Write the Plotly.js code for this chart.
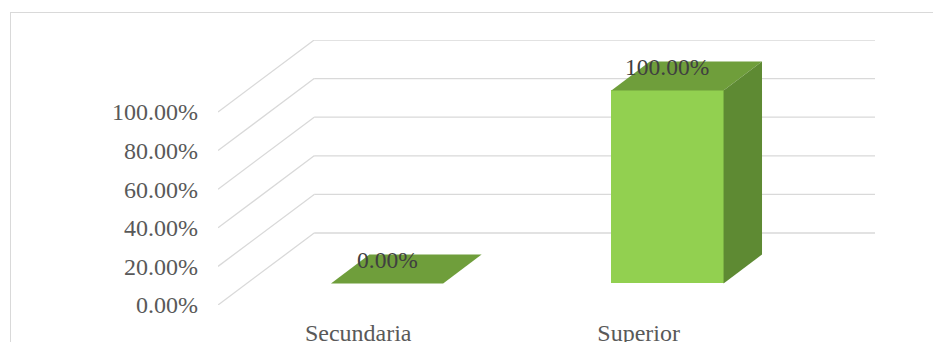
<!DOCTYPE html>
<html>
<head>
<meta charset="utf-8">
<script src="https://cdn.plot.ly/plotly-3.0.1.min.js"></script>
<style>
  html, body { margin: 0; padding: 0; background: #ffffff; overflow: hidden; }
  #frame { position: absolute; left: 10px; top: 12px; width: 960px; height: 360px;
           border: 1px solid #d9d9d9; box-sizing: border-box; }
  #chart { position: absolute; left: 0; top: 0; width: 933px; height: 342px; }
</style>
</head>
<body>
<div id="frame"></div>
<div id="chart"></div>
<script>
// Education level shares
const categories = ['Secundaria', 'Superior'];
const values = [0, 100];
const valueLabels = ['0.00%', '100.00%'];
const tickValues = [0, 20, 40, 60, 80, 100];
const tickLabels = ['0.00%', '20.00%', '40.00%', '60.00%', '80.00%', '100.00%'];

// 3D projection: full depth moves a point right and up (in axis units)
const DX = 0.343;            // x units per full depth
const DY = 37.3;             // y units per full depth
const depthFront = 0.3;      // bar front depth fraction
const depthBack = 0.7;       // bar back depth fraction
const halfW = 0.2;           // half bar width in category units

const FONT = 'Liberation Serif, Times New Roman, serif';
const gridColor = '#d9d9d9';
const frontColor = '#92D050';
const topColor = '#6F9E3B';
const sideColor = '#5E8A33';

const xs = categories.map((_, i) => i);
const xMin = -0.5, xMax = xs.length - 0.5;

const shapes = [];
// back wall gridlines and floor-to-wall diagonals
tickValues.forEach(v => {
  shapes.push({ type: 'line', xref: 'x', yref: 'y', layer: 'below',
    x0: xMin + DX, x1: xMax + DX, y0: v + DY, y1: v + DY,
    line: { color: gridColor, width: 1.3 } });
  shapes.push({ type: 'line', xref: 'x', yref: 'y', layer: 'below',
    x0: xMin, x1: xMin + DX, y0: v, y1: v + DY,
    line: { color: gridColor, width: 1.3 } });
});

const traces = [];
// front faces
traces.push({
  type: 'bar', x: xs.map(c => c + depthFront * DX), y: values,
  base: depthFront * DY, width: 2 * halfW,
  marker: { color: frontColor, line: { width: 0 } },
  hoverinfo: 'skip', showlegend: false
});
// top and side faces
xs.forEach((c, i) => {
  const v = values[i];
  const l = c - halfW, r = c + halfW;
  const fx = depthFront * DX, fy = depthFront * DY;
  const bx = depthBack * DX, by = depthBack * DY;
  traces.push({
    type: 'scatter', mode: 'lines', fill: 'toself', fillcolor: topColor,
    x: [l + fx, r + fx, r + bx, l + bx, l + fx],
    y: [v + fy, v + fy, v + by, v + by, v + fy],
    line: { width: 0, color: topColor }, hoverinfo: 'skip', showlegend: false
  });
  if (v > 0) {
    traces.push({
      type: 'scatter', mode: 'lines', fill: 'toself', fillcolor: sideColor,
      x: [r + fx, r + bx, r + bx, r + fx, r + fx],
      y: [fy, by, v + by, v + fy, fy],
      line: { width: 0, color: sideColor }, hoverinfo: 'skip', showlegend: false
    });
  }
});

const annotations = xs.map((c, i) => ({
  x: c + depthFront * DX, y: values[i] + 0.5 * DY, xref: 'x', yref: 'y',
  text: valueLabels[i], showarrow: false, yshift: 9,
  font: { family: FONT, size: 23.5, color: '#404040' }
}));

const layout = {
  width: 933, height: 342,
  margin: { l: 218, r: 58, t: 40, b: 37 },
  paper_bgcolor: 'rgba(0,0,0,0)', plot_bgcolor: 'rgba(0,0,0,0)',
  showlegend: false,
  xaxis: {
    range: [xMin, xMax + DX], tickmode: 'array', tickvals: xs, ticktext: categories,
    showgrid: false, zeroline: false, showline: false, ticks: '',
    ticklabelstandoff: 11,
    tickfont: { family: FONT, size: 24, color: '#595959' }, fixedrange: true
  },
  yaxis: {
    range: [0, 100 + DY], tickmode: 'array', tickvals: tickValues, ticktext: tickLabels,
    showgrid: false, zeroline: false, showline: false, ticks: '',
    ticklabelstandoff: 19,
    tickfont: { family: FONT, size: 24, color: '#595959' }, fixedrange: true
  },
  shapes: shapes,
  annotations: annotations,
  bargap: 0
};

Plotly.newPlot('chart', traces, layout, { staticPlot: true, displayModeBar: false });
</script>
</body>
</html>
